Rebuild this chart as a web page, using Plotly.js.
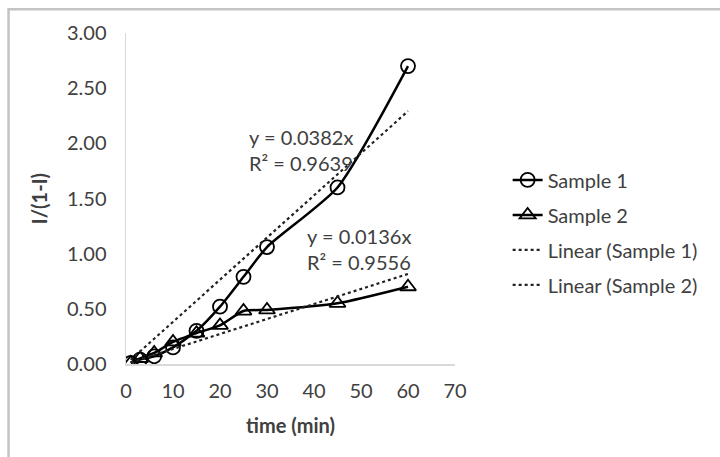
<!DOCTYPE html>
<html>
<head>
<meta charset="utf-8">
<script src="https://cdn.plot.ly/plotly-3.0.1.min.js"></script>
<style>html,body{margin:0;padding:0;background:#fff;}#chart{width:720px;height:457px;}</style>
</head>
<body>
<div id="chart"></div>
<script>
// Data
const timeMin = [1, 3, 6, 10, 15, 20, 25, 30, 45, 60];
const sample1 = [0.01, 0.04, 0.07, 0.15, 0.30, 0.52, 0.79, 1.06, 1.60, 2.70];
const sample2 = [0.01, 0.05, 0.10, 0.20, 0.28, 0.35, 0.48, 0.49, 0.55, 0.70];
const slope1 = 0.0382, r2_1 = 0.9639;
const slope2 = 0.0136, r2_2 = 0.9556;
const trendX = [timeMin[0], timeMin[timeMin.length - 1]];
const xTicks = [0, 10, 20, 30, 40, 50, 60, 70];
const yTicks = [0, 0.5, 1, 1.5, 2, 2.5, 3];

const FONT = "Lato, 'Open Sans', sans-serif";
const TXT = '#404040';
const FS = 20;

const traces = [
  {x: timeMin, y: sample1, name: 'Sample 1', type: 'scatter', mode: 'lines+markers',
   line: {color: '#000', width: 2.5, shape: 'spline', smoothing: 0.6},
   marker: {symbol: 'circle-open', size: 14, color: '#000', line: {width: 1.8}},
   legendgroup: 'a'},
  {x: timeMin, y: sample2, name: 'Sample 2', type: 'scatter', mode: 'lines+markers',
   line: {color: '#000', width: 2.5, shape: 'spline', smoothing: 0.6},
   marker: {symbol: 'triangle-up-open', size: 14, color: '#000', line: {width: 1.8}},
   legendgroup: 'b'},
  {x: trendX, y: trendX.map(v => v * slope1), name: 'Linear (Sample 1)', type: 'scatter', mode: 'lines',
   line: {color: '#222', width: 2.2, dash: 'dot'}, legendgroup: 'c'},
  {x: trendX, y: trendX.map(v => v * slope2), name: 'Linear (Sample 2)', type: 'scatter', mode: 'lines',
   line: {color: '#222', width: 2.2, dash: 'dot'}, legendgroup: 'd'}
];

const layout = {
  width: 720, height: 457,
  margin: {l: 126, r: 265, t: 33, b: 93},
  paper_bgcolor: '#fff', plot_bgcolor: '#fff',
  font: {family: FONT, size: FS, color: TXT},
  showlegend: true,
  legend: {x: 1.16, y: 0.615, xanchor: 'left', yanchor: 'top', traceorder: 'grouped',
           tracegroupgap: 6, font: {family: FONT, size: FS, color: TXT}, bgcolor: 'rgba(0,0,0,0)'},
  xaxis: {range: [0, 70], tickvals: xTicks, ticktext: xTicks.map(String),
          showgrid: false, zeroline: false, showline: true, linecolor: '#d9d9d9', linewidth: 1.5,
          ticks: '', ticklabelstandoff: 8, tickfont: {family: FONT, size: FS, color: TXT},
          title: {text: '<b>time (min)</b>', font: {family: FONT, size: FS, color: TXT}, standoff: 18}},
  yaxis: {range: [0, 3], tickvals: yTicks, ticktext: yTicks.map(v => v.toFixed(2)),
          showgrid: false, zeroline: false, showline: true, linecolor: '#d9d9d9', linewidth: 1.5,
          ticks: '', ticklabelstandoff: 14, tickfont: {family: FONT, size: FS, color: TXT},
          title: {text: '<b>I/(1-I)</b>', font: {family: FONT, size: FS, color: TXT}, standoff: 14}},
  annotations: [
    {x: 25.7, y: 1.94, xref: 'x', yref: 'y', xanchor: 'left', yanchor: 'middle', align: 'left', showarrow: false,
     text: 'y = ' + slope1 + 'x<br>R² = ' + r2_1, font: {family: FONT, size: FS, color: TXT}},
    {x: 38.1, y: 1.04, xref: 'x', yref: 'y', xanchor: 'left', yanchor: 'middle', align: 'left', showarrow: false,
     text: 'y = ' + slope2 + 'x<br>R² = ' + r2_2, font: {family: FONT, size: FS, color: TXT}}
  ],
  shapes: [
    {type: 'rect', xref: 'paper', yref: 'paper', x0: -0.357, x1: 1.85, y0: -0.5, y1: 1.072,
     line: {color: '#c4c4c4', width: 2.5}, fillcolor: 'rgba(0,0,0,0)', layer: 'below'}
  ]
};

Plotly.newPlot('chart', traces, layout, {displayModeBar: false, staticPlot: true});
</script>
</body>
</html>
